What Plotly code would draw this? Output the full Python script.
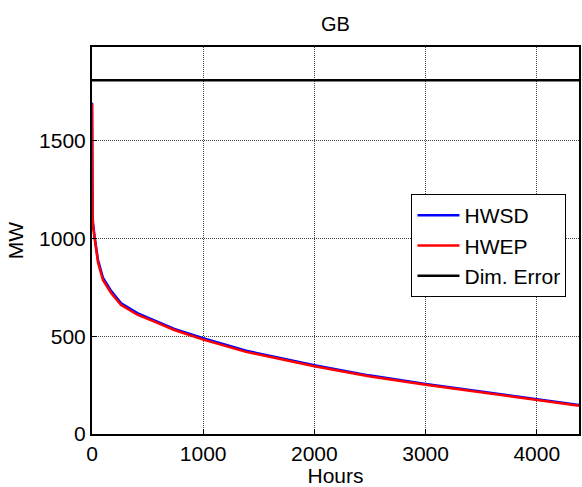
import plotly.graph_objects as go

hours = [0, 2, 5, 10, 24, 54, 98, 173, 262, 412, 561, 740, 1000, 1385, 2000, 2489, 3000, 3500, 4000, 4380]
hwsd = [1695, 1260, 1110, 1075, 1005, 890, 800, 731, 669, 617, 582, 538, 490, 426, 352, 300, 256, 216, 178, 148]
hwep = [1690, 1250, 1100, 1060, 993, 878, 788, 720, 660, 609, 575, 532, 483, 420, 347, 296, 252, 213, 175, 145]
dim_error = 1810
x_ticks = [0, 1000, 2000, 3000, 4000]
y_ticks = [0, 500, 1000, 1500]

FONT = "Arial, Liberation Sans, Helvetica, sans-serif"

fig = go.Figure()
fig.add_trace(go.Scatter(x=hours, y=hwsd, mode="lines", name="HWSD",
                         line=dict(color="#0000ff", width=2.5)))
fig.add_trace(go.Scatter(x=hours, y=hwep, mode="lines", name="HWEP",
                         line=dict(color="#ff0000", width=2.5)))
fig.add_trace(go.Scatter(x=[hours[0], hours[-1]], y=[dim_error, dim_error], mode="lines",
                         name="Dim. Error", line=dict(color="#000000", width=2.5)))

font = dict(family=FONT, size=21, color="#000000")
axis_common = dict(showline=True, linecolor="black", linewidth=2, mirror=True,
                   showgrid=True, gridcolor="#444444", griddash="1px,1px", gridwidth=1,
                   ticks="inside", ticklen=5, tickcolor="black", zeroline=False,
                   tickfont=font)

fig.update_layout(
    width=582, height=487,
    paper_bgcolor="white", plot_bgcolor="white",
    margin=dict(l=92, r=1, t=47, b=53),
    font=font,
    title=dict(text="GB", x=0.5, xanchor="center", xref="paper", y=1 - 24/487, yanchor="middle",
               font=dict(family=FONT, size=20, color="black")),
    xaxis=dict(range=[0, 4380], tickvals=x_ticks, title=dict(text="Hours", standoff=0,
               font=dict(family=FONT, size=21)), **axis_common),
    yaxis=dict(range=[0, 1980], tickvals=y_ticks, title=dict(text="MW", standoff=10,
               font=dict(family=FONT, size=21)), **axis_common),
    legend=dict(x=0.656, y=0.62, xanchor="left", yanchor="top", bordercolor="black",
                borderwidth=1, bgcolor="white", tracegroupgap=0, itemwidth=42,
                font=dict(family=FONT, size=21)),
    showlegend=True,
)

fig.write_html("out.html", config={"displayModeBar": False},
               post_script="document.body.style.margin='0';document.body.style.overflow='hidden';")
